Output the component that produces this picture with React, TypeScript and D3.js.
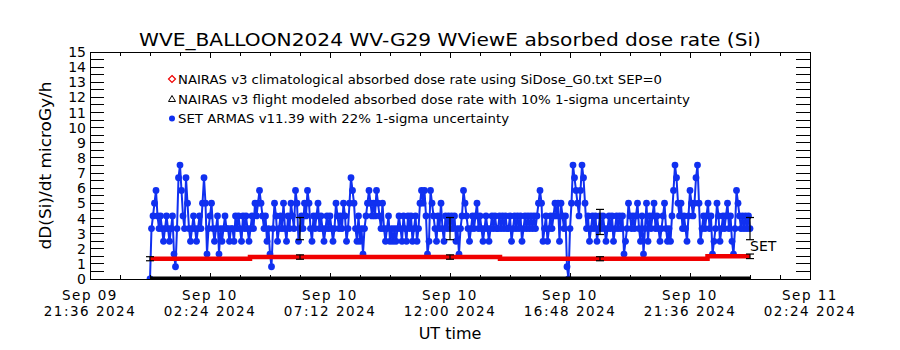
import React from "react";
import * as d3 from "d3";

// ---------- text ----------
const TITLE = "WVE_BALLOON2024 WV-G29 WViewE absorbed dose rate (Si)";
const Y_TITLE = "dD(Si)/dt microGy/h";
const X_TITLE = "UT time";
const LEGEND_LABELS = [
  "NAIRAS v3 climatological absorbed dose rate using SiDose_G0.txt SEP=0",
  "NAIRAS v3 flight modeled absorbed dose rate with 10% 1-sigma uncertainty",
  "SET ARMAS v11.39 with 22% 1-sigma uncertainty",
];
const SERIES_TAG = "SET";

// ---------- axes ----------
const X_DOMAIN = ["2024-09-09T21:36:00Z", "2024-09-11T02:24:00Z"];
const X_MAJOR_HOURS = 4.8;
const X_MINOR_HOURS = 1.2;
const Y_DOMAIN = [0, 15];
const Y_TICK_LABELS = ["0", "1", "2", "3", "4", "5", "6", "7", "8", "9", "10", "11", "12", "13", "14", "15"];
const Y_MINOR_STEP = 0.5;

// ---------- SET ARMAS measured dose rate (microGy/h), one value every 3.6 min from 00:00 UT ----------
const SET_START = "2024-09-10T00:00:00Z";
const SET_STEP_MINUTES = 3.6;
const setDose = [
  0, 3.33, 4.17, 5.01, 5.85, 4.17, 3.33, 4.17, 3.33, 2.49, 3.33, 4.17, 3.33, 2.49, 3.33, 4.17, 1.65, 0.81, 3.33, 6.69,
  7.53, 5.85, 4.17, 3.33, 6.69, 5.01, 3.33, 2.49, 3.33, 4.17, 3.33, 2.49, 3.33, 4.17, 3.33, 5.01, 6.69, 5.01, 1.65, 3.33,
  4.17, 5.01, 3.33, 2.49, 3.33, 4.17, 1.65, 3.33, 2.49, 3.33, 4.17, 3.33, 3.33, 2.49, 3.33, 3.33, 2.49, 4.17, 3.33, 4.17,
  3.33, 2.49, 4.17, 3.33, 4.17, 3.33, 2.49, 3.33, 4.17, 3.33, 5.01, 4.17, 5.01, 5.85, 5.01, 4.17, 3.33, 4.17, 2.49, 3.33,
  1.65, 0.81, 3.33, 5.01, 4.17, 2.49, 3.33, 4.17, 3.33, 5.01, 3.33, 2.49, 4.17, 3.33, 5.01, 4.17, 3.33, 5.85, 5.01, 2.49,
  3.33, 4.17, 3.33, 5.01, 4.17, 5.85, 5.01, 3.33, 2.49, 4.17, 3.33, 4.17, 5.01, 3.33, 4.17, 3.33, 2.49, 3.33, 4.17, 3.33,
  4.17, 3.33, 2.49, 3.33, 5.01, 4.17, 3.33, 4.17, 3.33, 5.01, 4.17, 2.49, 3.33, 5.01, 6.69, 5.85, 5.01, 3.33, 2.49, 4.17,
  2.49, 3.33, 1.65, 3.33, 4.17, 5.01, 5.85, 5.01, 4.17, 5.01, 4.17, 5.85, 5.01, 4.17, 3.33, 5.01, 3.33, 2.49, 3.33, 4.17,
  2.49, 3.33, 2.49, 3.33, 2.49, 3.33, 4.17, 3.33, 2.49, 4.17, 3.33, 2.49, 4.17, 3.33, 4.17, 2.49, 3.33, 4.17, 2.49, 3.33,
  5.01, 5.85, 5.01, 5.85, 4.17, 1.65, 2.49, 5.85, 5.01, 4.17, 3.33, 2.49, 4.17, 3.33, 5.01, 3.33, 2.49, 4.17, 3.33, 4.17,
  3.33, 4.17, 3.33, 4.17, 2.49, 3.33, 1.65, 3.33, 4.17, 5.85, 5.01, 4.17, 3.33, 2.49, 3.33, 4.17, 3.33, 4.17, 5.01, 3.33,
  4.17, 3.33, 2.49, 3.33, 4.17, 3.33, 2.49, 3.33, 4.17, 3.33, 4.17, 3.33, 3.33, 4.17, 3.33, 4.17, 3.33, 4.17, 3.33, 3.33,
  4.17, 2.49, 3.33, 4.17, 3.33, 4.17, 3.33, 4.17, 2.49, 3.33, 4.17, 3.33, 4.17, 3.33, 4.17, 3.33, 4.17, 3.33, 4.17, 5.01,
  5.85, 5.01, 2.49, 3.33, 4.17, 2.49, 3.33, 4.17, 3.33, 4.17, 5.01, 4.17, 5.01, 2.49, 5.01, 4.17, 3.33, 4.17, 0.81, 0,
  3.33, 5.01, 7.53, 6.69, 5.85, 5.01, 4.17, 5.85, 7.53, 6.69, 5.01, 3.33, 4.17, 2.49, 3.33, 4.17, 3.33, 4.17, 2.49, 3.33,
  4.17, 3.33, 4.17, 3.33, 2.49, 3.33, 4.17, 3.33, 4.17, 2.49, 3.33, 4.17, 3.33, 4.17, 3.33, 4.17, 1.65, 2.49, 3.33, 5.01,
  4.17, 3.33, 4.17, 3.33, 4.17, 5.01, 3.33, 2.49, 4.17, 1.65, 3.33, 5.01, 2.49, 4.17, 3.33, 4.17, 5.01, 3.33, 4.17, 3.33,
  2.49, 3.33, 4.17, 5.01, 3.33, 2.49, 3.33, 2.49, 4.17, 5.85, 7.53, 6.69, 5.01, 4.17, 5.01, 3.33, 4.17, 3.33, 2.49, 4.17,
  5.85, 5.01, 4.17, 5.01, 6.69, 7.53, 5.01, 2.49, 3.33, 4.17, 3.33, 4.17, 5.01, 3.33, 4.17, 1.65, 2.49, 3.33, 5.01, 4.17,
  2.49, 3.33, 4.17, 3.33, 4.17, 5.01, 3.33, 4.17, 2.49, 1.65, 3.33, 5.85, 5.01, 4.17, 3.33, 4.17, 3.33, 4.17, 3.33, 4.17,
  3.33,
];
const SET_UNCERTAINTY = 0.22;
const setAvgHours = [6, 12, 18, 24];
const setAvgDose = [3.33, 3.33, 3.77, 3.33];

// ---------- NAIRAS ----------
const climHours = [0, 4, 14, 22.3, 24];
const climDose = [1.34, 1.45, 1.34, 1.5, 1.5];
const flightLineHours = [0, 6, 12, 18, 24];
const flightLineDose = [0, 0, 0, 0, 0];
const flightBarHours = [0, 6, 12, 18, 24];
const flightBarDose = [1.34, 1.45, 1.45, 1.34, 1.5];
const FLIGHT_UNCERTAINTY = 0.1;

// ---------- layout / style ----------
const W = 900;
const H = 350;
const PLOT = { left: 90, right: 810, top: 52, bottom: 279 };
const FONT = "DejaVu Sans, Verdana, sans-serif";
const BLUE = "#1030f0";
const RED = "#f00000";

const HOUR = 3600 * 1000;

export default function App() {
  const x = d3
    .scaleUtc()
    .domain(X_DOMAIN.map((s) => new Date(s)))
    .range([PLOT.left, PLOT.right]);
  const y = d3.scaleLinear().domain(Y_DOMAIN).range([PLOT.bottom, PLOT.top]);

  const x0 = new Date(X_DOMAIN[0]).getTime();
  const x1 = new Date(X_DOMAIN[1]).getTime();
  const majorTicks = d3.range(x0, x1 + 1, X_MAJOR_HOURS * HOUR).map((t) => new Date(t));
  const minorTicks = d3.range(x0, x1 + 1, X_MINOR_HOURS * HOUR).map((t) => new Date(t));
  const fmtDay = d3.utcFormat("%b %d");
  const fmtTime = d3.utcFormat("%H:%M %Y");

  const yMinor = d3.range(Y_DOMAIN[0], Y_DOMAIN[1] + 0.001, Y_MINOR_STEP);

  const dayStart = new Date(SET_START).getTime();
  const setPts = setDose.map((v, i) => ({ t: new Date(dayStart + i * SET_STEP_MINUTES * 60000), v }));
  const hourDate = (h: number) => new Date(dayStart + h * HOUR);

  const setLine = d3
    .line<{ t: Date; v: number }>()
    .x((d) => x(d.t))
    .y((d) => y(d.v));

  const climPts = climHours.map((h, i) => ({ t: hourDate(h), v: climDose[i] }));
  const climLine = d3
    .line<{ t: Date; v: number }>()
    .curve(d3.curveStepAfter)
    .x((d) => x(d.t))
    .y((d) => y(d.v));

  const flightPts = flightLineHours.map((h, i) => ({ t: hourDate(h), v: flightLineDose[i] }));
  const flightLine = d3
    .line<{ t: Date; v: number }>()
    .x((d) => x(d.t))
    .y((d) => y(d.v));

  const errBar = (cx: number, lo: number, hi: number, key: string) => (
    <g key={key} stroke="#000" strokeWidth={1.2}>
      <line x1={cx} x2={cx} y1={y(lo)} y2={y(hi)} />
      <line x1={cx - 4} x2={cx + 4} y1={y(lo)} y2={y(lo)} />
      <line x1={cx - 4} x2={cx + 4} y1={y(hi)} y2={y(hi)} />
    </g>
  );

  const lastSet = setPts[setPts.length - 1];

  return (
    <svg
      width={W}
      height={H}
      style={{ position: "absolute", left: 0, top: 0, background: "#fff" }}
      fontFamily={FONT}
    >
      <rect x={0} y={0} width={W} height={H} fill="#fff" />
      <defs>
        <clipPath id="plotClip">
          <rect x={PLOT.left} y={PLOT.top} width={PLOT.right - PLOT.left} height={PLOT.bottom - PLOT.top} />
        </clipPath>
      </defs>

      {/* title */}
      <text x={(PLOT.left + PLOT.right) / 2} y={46} textAnchor="middle" fontSize={18} textLength={622} lengthAdjust="spacingAndGlyphs">
        {TITLE}
      </text>

      {/* data */}
      <g clipPath="url(#plotClip)">
        <path d={setLine(setPts) || ""} fill="none" stroke={BLUE} strokeWidth={2} />
        {setPts.map((d, i) => (
          <circle key={i} cx={x(d.t)} cy={y(d.v)} r={3.4} fill={BLUE} />
        ))}
        <path d={climLine(climPts) || ""} fill="none" stroke={RED} strokeWidth={4.5} />
        <path d={flightLine(flightPts) || ""} fill="none" stroke="#000" strokeWidth={5} />
        {flightBarHours.map((h, i) =>
          errBar(x(hourDate(h)), flightBarDose[i] * (1 - FLIGHT_UNCERTAINTY), flightBarDose[i] * (1 + FLIGHT_UNCERTAINTY), "f" + i)
        )}
        {setAvgHours.map((h, i) =>
          errBar(x(hourDate(h)), setAvgDose[i] * (1 - SET_UNCERTAINTY), setAvgDose[i] * (1 + SET_UNCERTAINTY), "s" + i)
        )}
      </g>

      {/* series tag */}
      <text x={x(lastSet.t)} y={251} fontSize={14}>
        {SERIES_TAG}
      </text>

      {/* frame */}
      <rect
        x={PLOT.left}
        y={PLOT.top}
        width={PLOT.right - PLOT.left}
        height={PLOT.bottom - PLOT.top}
        fill="none"
        stroke="#000"
        strokeWidth={1}
        shapeRendering="crispEdges"
      />

      {/* x ticks (bottom and top) */}
      <g stroke="#000" strokeWidth={1} shapeRendering="crispEdges">
        {minorTicks.map((t, i) => {
          const isMajor = majorTicks.some((m) => m.getTime() === t.getTime());
          const len = isMajor ? 6 : 4;
          return (
            <g key={i}>
              <line x1={x(t)} x2={x(t)} y1={PLOT.bottom} y2={PLOT.bottom - len} />
              <line x1={x(t)} x2={x(t)} y1={PLOT.top} y2={PLOT.top + len} />
            </g>
          );
        })}
      </g>
      {majorTicks.map((t, i) => (
        <g key={i} fontSize={13.5} textAnchor="middle" letterSpacing={1.5}>
          <text x={x(t)} y={300}>
            {fmtDay(t)}
          </text>
          <text x={x(t)} y={316}>
            {fmtTime(t)}
          </text>
        </g>
      ))}
      <text x={(PLOT.left + PLOT.right) / 2} y={339} textAnchor="middle" fontSize={16}>
        {X_TITLE}
      </text>

      {/* y ticks (left and right) */}
      <g stroke="#000" strokeWidth={1} shapeRendering="crispEdges">
        {yMinor.map((v, i) => (
          <g key={i}>
            <line x1={PLOT.left} x2={PLOT.left + 14} y1={y(v)} y2={y(v)} />
            <line x1={PLOT.right} x2={PLOT.right - 14} y1={y(v)} y2={y(v)} />
          </g>
        ))}
      </g>
      {Y_TICK_LABELS.map((lab) => (
        <text key={lab} x={86} y={y(+lab)} dy="0.36em" textAnchor="end" fontSize={14}>
          {lab}
        </text>
      ))}
      <text
        transform={`translate(51,${(PLOT.top + PLOT.bottom) / 2}) rotate(-90)`}
        textAnchor="middle"
        fontSize={15.5}
        textLength={168}
        lengthAdjust="spacingAndGlyphs"
      >
        {Y_TITLE}
      </text>

      {/* legend */}
      <g fontSize={13}>
        <path d="M172,75.5 L175.5,79 L172,82.5 L168.5,79 Z" fill="none" stroke={RED} strokeWidth={1.2} />
        <text x={178} y={84} textLength={484} lengthAdjust="spacingAndGlyphs">
          {LEGEND_LABELS[0]}
        </text>
        <path d="M172,95.5 L175.5,101.5 L168.5,101.5 Z" fill="none" stroke="#000" strokeWidth={1} />
        <text x={178} y={104} textLength={512} lengthAdjust="spacingAndGlyphs">
          {LEGEND_LABELS[1]}
        </text>
        <circle cx={172} cy={118.5} r={3} fill={BLUE} />
        <text x={178} y={123} textLength={331} lengthAdjust="spacingAndGlyphs">
          {LEGEND_LABELS[2]}
        </text>
      </g>
    </svg>
  );
}
